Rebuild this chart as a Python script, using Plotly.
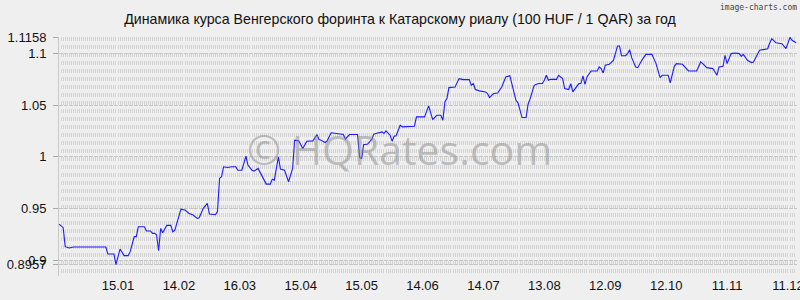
import pandas as pd
import plotly.graph_objects as go

# ---- data ----
start_date = "2024-12-17"
days = [0, 2, 3, 5, 7, 23, 24, 27, 28, 30, 32, 34, 35, 37, 38, 39, 42, 43, 45, 46,
        47, 48, 49, 50, 51, 53, 55, 56, 57, 60, 62, 64, 66, 68, 69, 71, 73, 74, 77, 78,
        79, 80, 81, 83, 85, 87, 88, 90, 92, 93, 95, 96, 98, 100, 102, 104, 105, 106, 108, 109,
        111, 113, 115, 116, 118, 120, 122, 125, 127, 128, 129, 131, 132, 134, 138, 140, 141, 143, 147, 148,
        149, 150, 151, 152, 154, 155, 156, 159, 160, 161, 163, 164, 165, 166, 168, 169, 175, 176, 180, 182,
        184, 186, 188, 189, 190, 191, 192, 195, 197, 199, 202, 203, 204, 205, 207, 210, 211, 212, 214, 216,
        218, 220, 222, 225, 226, 228, 230, 231, 232, 234, 236, 238, 239, 240, 241, 242, 245, 246, 248, 249,
        251, 252, 253, 256, 257, 258, 259, 260, 262, 265, 266, 267, 268, 269, 271, 273, 274, 275, 276, 277,
        279, 280, 281, 282, 284, 285, 287, 289, 292, 294, 296, 297, 300, 301, 303, 304, 307, 310, 314, 316,
        317, 319, 322, 324, 325, 327, 328, 329, 331, 333, 335, 336, 337, 339, 341, 342, 345, 349, 350, 351,
        353, 356, 358, 360, 361, 363]
rates = [0.9349, 0.9314, 0.9130, 0.9117, 0.9127, 0.9127, 0.9059, 0.9059, 0.8957, 0.9107,
         0.9043, 0.9043, 0.9082, 0.9227, 0.9227, 0.9323, 0.9323, 0.9282, 0.9282, 0.9259,
         0.9259, 0.9246, 0.9091, 0.9307, 0.9265, 0.9336, 0.9336, 0.9275, 0.9291, 0.9494,
         0.9485, 0.9452, 0.9436, 0.9404, 0.9410, 0.9501, 0.9549, 0.9446, 0.9440, 0.9469,
         0.9791, 0.9807, 0.9904, 0.9897, 0.9904, 0.9904, 0.9871, 0.9871, 1.0007, 0.9920,
         0.9871, 0.9862, 0.9888, 0.9807, 0.9736, 0.9736, 0.9784, 0.9775, 1.0000, 0.9881,
         0.9871, 0.9759, 0.9888, 1.0162, 1.0155, 1.0081, 1.0152, 1.0155, 1.0216, 1.0168,
         1.0162, 1.0139, 1.0155, 1.0233, 1.0226, 1.0216, 1.0171, 1.0216, 1.0216, 0.9994,
         0.9984, 1.0120, 1.0120, 1.0124, 1.0171, 1.0220, 1.0226, 1.0242, 1.0226, 1.0252,
         1.0210, 1.0152, 1.0200, 1.0204, 1.0307, 1.0291, 1.0297, 1.0387, 1.0387, 1.0494,
         1.0361, 1.0403, 1.0403, 1.0355, 1.0532, 1.0564, 1.0671, 1.0677, 1.0758, 1.0748,
         1.0748, 1.0693, 1.0710, 1.0652, 1.0639, 1.0629, 1.0613, 1.0574, 1.0613, 1.0619,
         1.0677, 1.0774, 1.0787, 1.0548, 1.0523, 1.0381, 1.0381, 1.0510, 1.0564, 1.0693,
         1.0710, 1.0710, 1.0742, 1.0790, 1.0742, 1.0751, 1.0751, 1.0790, 1.0758, 1.0661,
         1.0652, 1.0710, 1.0629, 1.0710, 1.0710, 1.0784, 1.0703, 1.0774, 1.0832, 1.0832,
         1.0871, 1.0855, 1.0813, 1.0887, 1.0897, 1.0935, 1.1000, 1.1074, 1.1074, 1.0980,
         1.0980, 1.1000, 1.1038, 1.0961, 1.0871, 1.0864, 1.0935, 1.0993, 1.0993, 1.0903,
         1.0768, 1.0790, 1.0790, 1.0716, 1.0877, 1.0903, 1.0897, 1.0832, 1.0832, 1.0919,
         1.0903, 1.0864, 1.0855, 1.0790, 1.0871, 1.0877, 1.0984, 1.0903, 1.1000, 1.1006,
         1.1000, 1.0974, 1.0993, 1.0935, 1.0913, 1.0919, 1.1032, 1.1048, 1.1103, 1.1145,
         1.1106, 1.1096, 1.1048, 1.1158, 1.1129, 1.1106]

x_tick_dates = ["2025-01-15", "2025-02-14", "2025-03-16", "2025-04-15", "2025-05-15", "2025-06-14",
                "2025-07-14", "2025-08-13", "2025-09-12", "2025-10-12", "2025-11-11", "2025-12-11"]
x_tick_labels = ["15.01", "14.02", "16.03", "15.04", "15.05", "14.06",
                 "14.07", "13.08", "12.09", "12.10", "11.11", "11.12"]
y_tick_vals = [0.8957, 0.9, 0.95, 1.0, 1.05, 1.1, 1.1158]
y_tick_labels = ["0.8957", "0.9", "0.95", "1", "1.05", "1.1", "1.1158"]

title_text = "Динамика курса Венгерского форинта к Катарскому риалу (100 HUF / 1 QAR) за год"

dates = pd.Timestamp(start_date) + pd.to_timedelta(days, unit="D")

FONT = "Liberation Sans, Arial, sans-serif"
BG = "#efefef"

fig = go.Figure()
fig.add_trace(go.Scatter(x=dates, y=rates, mode="lines",
                         line=dict(color="#1c1cff", width=1.1), hoverinfo="skip"))

fig.update_layout(
    width=800, height=300,
    margin=dict(l=59, r=3, t=37, b=24, autoexpand=False),
    paper_bgcolor=BG, plot_bgcolor=BG,
    showlegend=False,
    title=dict(text=title_text, x=0.5, xref="container", xanchor="center",
               y=1 - 19 / 300, yref="container", yanchor="middle",
               font=dict(family=FONT, size=14.2, color="#111")),
    xaxis=dict(
        type="date", automargin=False,
        range=["2024-12-16 22:30", "2025-12-15 10:30"],
        tickmode="array", tickvals=x_tick_dates, ticktext=x_tick_labels,
        ticks="", showgrid=False, zeroline=False, showline=False,
        ticklabeloverflow="allow",
        tickfont=dict(family=FONT, size=13, color="#111"),
        minor=dict(dtick=86400000, tick0=start_date, showgrid=True,
                   gridcolor="#d3d3d3", gridwidth=1, griddash="4px,4px", ticks=""),
    ),
    yaxis=dict(
        range=[0.8846, 1.1161], automargin=False,
        tickmode="array", tickvals=y_tick_vals, ticktext=y_tick_labels,
        ticks="outside", ticklen=5, tickcolor="#aaa", tickwidth=1,
        ticklabelstandoff=4,
        showgrid=True, gridcolor="#c6c6c6", gridwidth=1, griddash="4px,1px",
        zeroline=False, showline=True, linecolor="#c8c8c8", linewidth=1,
        tickfont=dict(family=FONT, size=13, color="#111"),
    ),
    annotations=[
        dict(text="© HQRates.com", xref="paper", yref="paper", x=0.462, y=0.53,
             xanchor="center", yanchor="middle", showarrow=False,
             font=dict(family="Open Sans, sans-serif", size=41, color="rgba(140,140,140,0.5)")),
        dict(text="image-charts.com", xref="paper", yref="paper", x=1.0, y=(276 - 7) / 239,
             xanchor="right", yanchor="middle", xshift=2, showarrow=False,
             font=dict(family="DejaVu Sans Mono, monospace", size=8, color="#444")),
    ],
)

fig.write_html("out.html")
